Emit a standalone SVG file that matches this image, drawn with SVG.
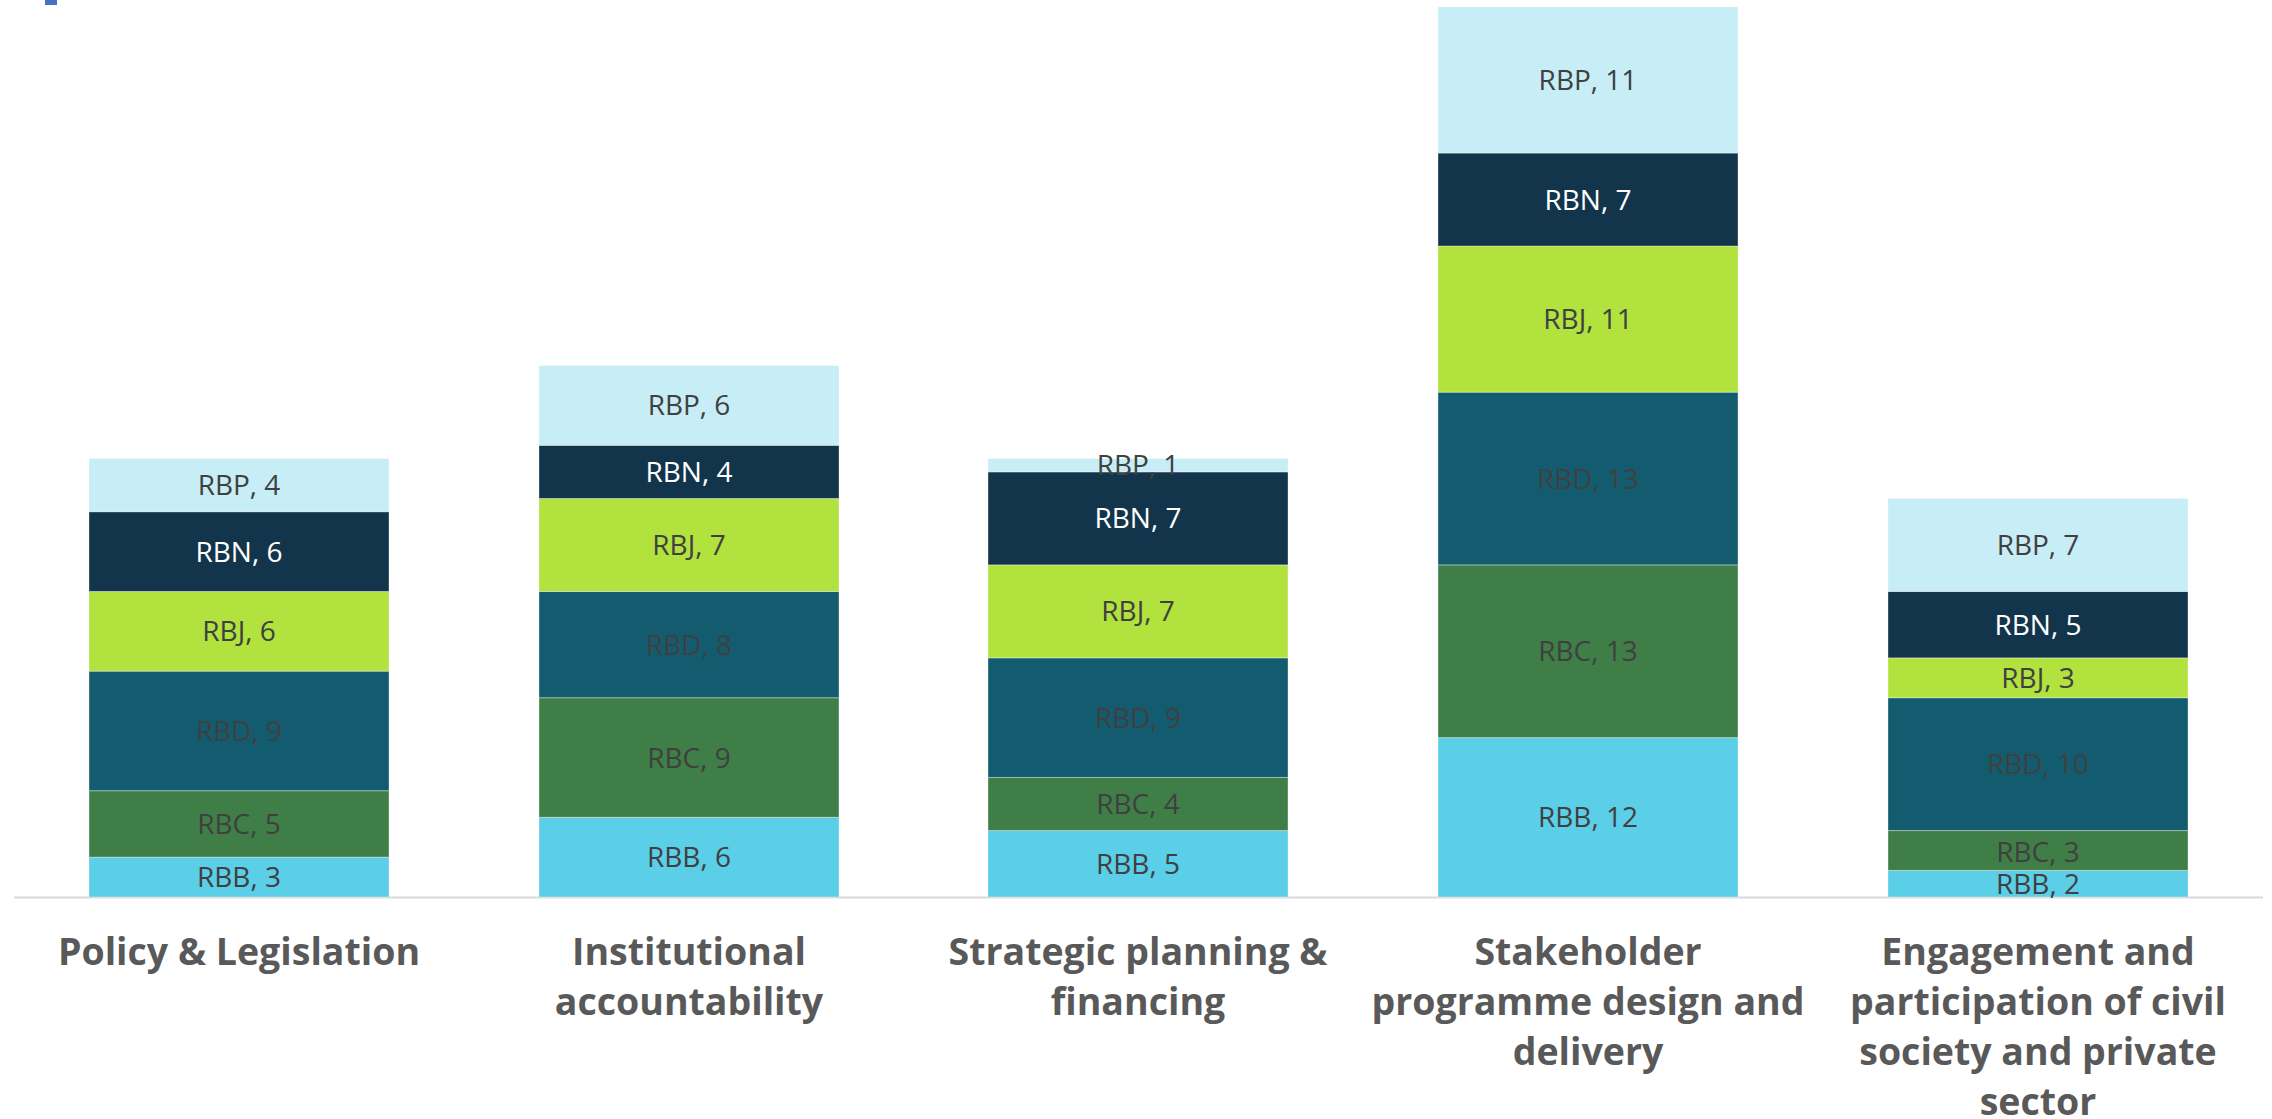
<svg xmlns="http://www.w3.org/2000/svg" width="2272" height="1119" viewBox="0 0 2272 1119">
<style>
.rbb{fill:#5BCEE8}.rbc{fill:#3F7F47}.rbd{fill:#135C6F}.rbj{fill:#B1E23E}.rbn{fill:#12354C}.rbp{fill:#C7EDF6}
rect.seg{stroke:#ffffff;stroke-opacity:0.35;stroke-width:1}
.lbl{font-family:"Open Sans","Liberation Sans",sans-serif;font-size:28px;fill:#404040;text-anchor:middle}
.lblw{fill:#ffffff}
.cat{font-family:"Open Sans","Liberation Sans",sans-serif;font-size:37.5px;font-weight:bold;fill:#595959;text-anchor:middle}
</style>
<rect x="45" y="0" width="12" height="5" fill="#4472C4"/>
<g id="axis"><line x1="14" y1="897.5" x2="2263" y2="897.5" stroke="#D9D9D9" stroke-width="2"/></g>
<g id="bar1">
<rect class="seg rbb" x="89" y="857.14" width="300" height="39.86"/>
<rect class="seg rbc" x="89" y="790.72" width="300" height="66.42"/>
<rect class="seg rbd" x="89" y="671.15" width="300" height="119.57"/>
<rect class="seg rbj" x="89" y="591.44" width="300" height="79.71"/>
<rect class="seg rbn" x="89" y="511.73" width="300" height="79.71"/>
<rect class="seg rbp" x="89" y="458.59" width="300" height="53.14"/>
<text class="lbl" x="239" y="887">RBB, 3</text>
<text class="lbl" x="239" y="834">RBC, 5</text>
<text class="lbl" x="239" y="741">RBD, 9</text>
<text class="lbl" x="239" y="641">RBJ, 6</text>
<text class="lbl lblw" x="239" y="562">RBN, 6</text>
<text class="lbl" x="239" y="495">RBP, 4</text>
</g>
<g id="bar2">
<rect class="seg rbb" x="539" y="817.29" width="300" height="79.71"/>
<rect class="seg rbc" x="539" y="697.72" width="300" height="119.57"/>
<rect class="seg rbd" x="539" y="591.44" width="300" height="106.28"/>
<rect class="seg rbj" x="539" y="498.45" width="300" height="92.99"/>
<rect class="seg rbn" x="539" y="445.31" width="300" height="53.14"/>
<rect class="seg rbp" x="539" y="365.6" width="300" height="79.71"/>
<text class="lbl" x="689" y="867">RBB, 6</text>
<text class="lbl" x="689" y="768">RBC, 9</text>
<text class="lbl" x="689" y="655">RBD, 8</text>
<text class="lbl" x="689" y="555">RBJ, 7</text>
<text class="lbl lblw" x="689" y="482">RBN, 4</text>
<text class="lbl" x="689" y="415">RBP, 6</text>
</g>
<g id="bar3">
<rect class="seg rbb" x="988" y="830.57" width="300" height="66.43"/>
<rect class="seg rbc" x="988" y="777.43" width="300" height="53.14"/>
<rect class="seg rbd" x="988" y="657.87" width="300" height="119.56"/>
<rect class="seg rbj" x="988" y="564.87" width="300" height="93"/>
<rect class="seg rbn" x="988" y="471.88" width="300" height="92.99"/>
<rect class="seg rbp" x="988" y="458.59" width="300" height="13.29"/>
<text class="lbl" x="1138" y="874">RBB, 5</text>
<text class="lbl" x="1138" y="814">RBC, 4</text>
<text class="lbl" x="1138" y="728">RBD, 9</text>
<text class="lbl" x="1138" y="621">RBJ, 7</text>
<text class="lbl lblw" x="1138" y="528">RBN, 7</text>
<text class="lbl" x="1138" y="475">RBP, 1</text>
</g>
<g id="bar4">
<rect class="seg rbb" x="1438" y="737.58" width="300" height="159.42"/>
<rect class="seg rbc" x="1438" y="564.87" width="300" height="172.71"/>
<rect class="seg rbd" x="1438" y="392.17" width="300" height="172.7"/>
<rect class="seg rbj" x="1438" y="246.03" width="300" height="146.14"/>
<rect class="seg rbn" x="1438" y="153.04" width="300" height="92.99"/>
<rect class="seg rbp" x="1438" y="6.9" width="300" height="146.14"/>
<text class="lbl" x="1588" y="827">RBB, 12</text>
<text class="lbl" x="1588" y="661">RBC, 13</text>
<text class="lbl" x="1588" y="489">RBD, 13</text>
<text class="lbl" x="1588" y="329">RBJ, 11</text>
<text class="lbl lblw" x="1588" y="210">RBN, 7</text>
<text class="lbl" x="1588" y="90">RBP, 11</text>
</g>
<g id="bar5">
<rect class="seg rbb" x="1888" y="870.43" width="300" height="26.57"/>
<rect class="seg rbc" x="1888" y="830.57" width="300" height="39.86"/>
<rect class="seg rbd" x="1888" y="697.72" width="300" height="132.85"/>
<rect class="seg rbj" x="1888" y="657.87" width="300" height="39.85"/>
<rect class="seg rbn" x="1888" y="591.44" width="300" height="66.43"/>
<rect class="seg rbp" x="1888" y="498.45" width="300" height="92.99"/>
<text class="lbl" x="2038" y="894">RBB, 2</text>
<text class="lbl" x="2038" y="862">RBC, 3</text>
<text class="lbl" x="2038" y="774">RBD, 10</text>
<text class="lbl" x="2038" y="688">RBJ, 3</text>
<text class="lbl lblw" x="2038" y="635">RBN, 5</text>
<text class="lbl" x="2038" y="555">RBP, 7</text>
</g>
<g id="categories">
<text class="cat" x="239" y="965">Policy &amp; Legislation</text>
<text class="cat" x="689" y="965">Institutional</text>
<text class="cat" x="689" y="1015">accountability</text>
<text class="cat" x="1138" y="965">Strategic planning &amp;</text>
<text class="cat" x="1138" y="1015">financing</text>
<text class="cat" x="1588" y="965">Stakeholder</text>
<text class="cat" x="1588" y="1015">programme design and</text>
<text class="cat" x="1588" y="1065">delivery</text>
<text class="cat" x="2038" y="965">Engagement and</text>
<text class="cat" x="2038" y="1015">participation of civil</text>
<text class="cat" x="2038" y="1065">society and private</text>
<text class="cat" x="2038" y="1115">sector</text>
</g>
</svg>
